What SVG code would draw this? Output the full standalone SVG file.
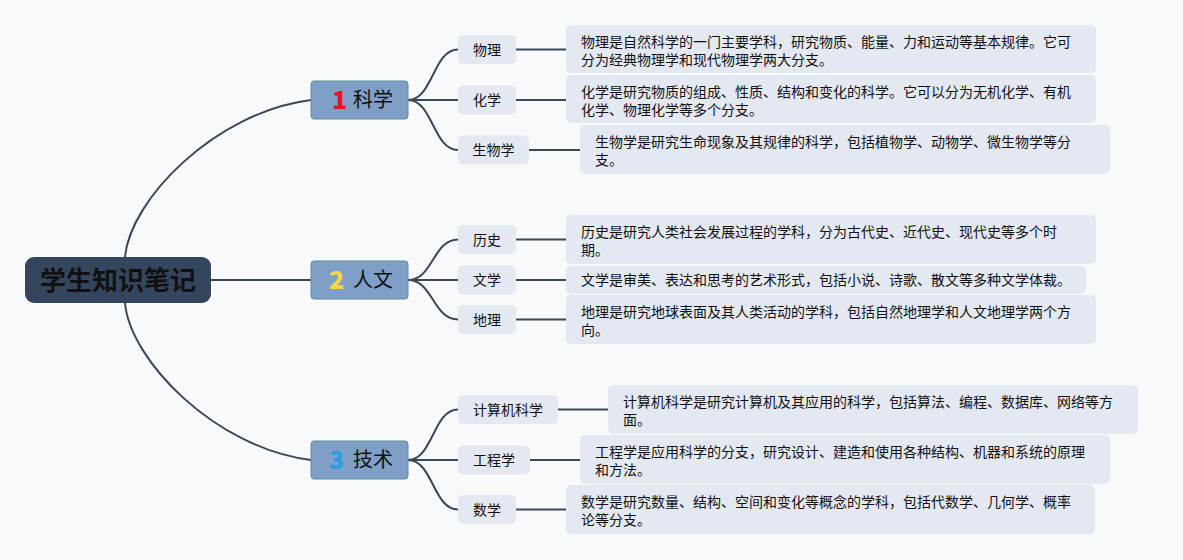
<svg xmlns="http://www.w3.org/2000/svg" width="1183" height="560" viewBox="0 0 1183 560">
<style>
.bg{fill:#f8f9fb}
.conn path{fill:none;stroke:#3c4858;stroke-width:2}
.root rect{fill:#34465e}
.root text{font-family:"Noto Sans CJK SC","Noto Sans",sans-serif;font-size:26px;font-weight:700;fill:#111;text-anchor:middle}
.br rect{fill:#809fc6;stroke:#5f8f98;stroke-width:1}
.br .num{font-family:"Noto Sans CJK SC","Noto Sans",sans-serif;font-size:25px;font-weight:900}
.br .lbl{font-family:"Noto Sans CJK SC","Noto Sans",sans-serif;font-size:20px;fill:#111}
.leaf rect{fill:#e4e8f0}
.leaf text{font-family:"Noto Sans CJK SC","Noto Sans",sans-serif;font-size:14px;fill:#111;text-anchor:middle}
.desc rect{fill:#e4e9f1}
.desc text{font-family:"Noto Sans CJK SC","Noto Sans",sans-serif;font-size:14px;fill:#111}
</style>
<rect class="bg" x="0" y="0" width="1183" height="560"/>
<g id="connectors" class="conn">
<path d="M125 257 C130 200 215 112 311 100"/>
<path d="M125 303 C130 360 215 448 311 460"/>
<path d="M211 280 L311 280"/>
<path d="M408 100 C433 100 433 49.5 458 49.5"/>
<path d="M408 100 L458 100"/>
<path d="M408 100 C433 100 433 150 458 150"/>
<path d="M408 280 C433 280 433 239.5 458 239.5"/>
<path d="M408 280 L458 280"/>
<path d="M408 280 C433 280 433 319.5 458 319.5"/>
<path d="M408 460 C433 460 433 409.5 458 409.5"/>
<path d="M408 460 L458 460"/>
<path d="M408 460 C433 460 433 509.5 458 509.5"/>
<path d="M516 49.5 L566 49.5"/>
<path d="M516 100 L566 100"/>
<path d="M529 150 L580 150"/>
<path d="M516 239.5 L566 239.5"/>
<path d="M516 280 L566 280"/>
<path d="M516 319.5 L566 319.5"/>
<path d="M558 409.5 L608 409.5"/>
<path d="M530 460 L580 460"/>
<path d="M516 509.5 L566 509.5"/>
</g>
<g id="root" class="root">
<rect x="25" y="257" width="186" height="46" rx="9"/>
<text x="118" y="290">学生知识笔记</text>
</g>
<g id="b1" class="br">
<rect x="311" y="81" width="97" height="38" rx="3"/>
<text class="num" x="332" y="109" fill="#e5112e">1</text>
<text class="lbl" x="353" y="107">科学</text>
</g>
<g id="b2" class="br">
<rect x="311" y="261" width="97" height="38" rx="3"/>
<text class="num" x="329" y="289" fill="#f3d744">2</text>
<text class="lbl" x="353" y="287">人文</text>
</g>
<g id="b3" class="br">
<rect x="311" y="441" width="97" height="38" rx="3"/>
<text class="num" x="329" y="469" fill="#2b9fe6">3</text>
<text class="lbl" x="353" y="467">技术</text>
</g>
<g id="l-wuli" class="leaf"><rect x="458" y="35" width="58" height="29" rx="5"/><text x="487" y="54.5">物理</text></g>
<g id="l-huaxue" class="leaf"><rect x="458" y="85.5" width="58" height="29" rx="5"/><text x="487" y="105">化学</text></g>
<g id="l-shengwu" class="leaf"><rect x="458" y="135.5" width="71" height="29" rx="5"/><text x="493.5" y="155">生物学</text></g>
<g id="l-lishi" class="leaf"><rect x="458" y="225" width="58" height="29" rx="5"/><text x="487" y="244.5">历史</text></g>
<g id="l-wenxue" class="leaf"><rect x="458" y="265.5" width="58" height="29" rx="5"/><text x="487" y="285">文学</text></g>
<g id="l-dili" class="leaf"><rect x="458" y="305" width="58" height="29" rx="5"/><text x="487" y="324.5">地理</text></g>
<g id="l-jisuanji" class="leaf"><rect x="458" y="395" width="100" height="29" rx="5"/><text x="508" y="414.5">计算机科学</text></g>
<g id="l-gongcheng" class="leaf"><rect x="458" y="445.5" width="72" height="29" rx="5"/><text x="494" y="465">工程学</text></g>
<g id="l-shuxue" class="leaf"><rect x="458" y="495" width="58" height="29" rx="5"/><text x="487" y="514.5">数学</text></g>
<g id="d-wuli" class="desc"><rect x="566" y="25" width="530" height="48" rx="5"/><text x="581" y="47">物理是自然科学的一门主要学科，研究物质、能量、力和运动等基本规律。它可</text><text x="581" y="65">分为经典物理学和现代物理学两大分支。</text></g>
<g id="d-huaxue" class="desc"><rect x="566" y="75" width="530" height="48" rx="5"/><text x="581" y="97">化学是研究物质的组成、性质、结构和变化的科学。它可以分为无机化学、有机</text><text x="581" y="115">化学、物理化学等多个分支。</text></g>
<g id="d-shengwu" class="desc"><rect x="580" y="125" width="530" height="49" rx="5"/><text x="595" y="147">生物学是研究生命现象及其规律的科学，包括植物学、动物学、微生物学等分</text><text x="595" y="165">支。</text></g>
<g id="d-lishi" class="desc"><rect x="566" y="215" width="530" height="49" rx="5"/><text x="581" y="237">历史是研究人类社会发展过程的学科，分为古代史、近代史、现代史等多个时</text><text x="581" y="255">期。</text></g>
<g id="d-wenxue" class="desc"><rect x="566" y="266" width="520" height="28" rx="5"/><text x="581" y="285">文学是审美、表达和思考的艺术形式，包括小说、诗歌、散文等多种文学体裁。</text></g>
<g id="d-dili" class="desc"><rect x="566" y="295" width="530" height="49" rx="5"/><text x="581" y="317">地理是研究地球表面及其人类活动的学科，包括自然地理学和人文地理学两个方</text><text x="581" y="335">向。</text></g>
<g id="d-jisuanji" class="desc"><rect x="608" y="385" width="530" height="49" rx="5"/><text x="623" y="407">计算机科学是研究计算机及其应用的科学，包括算法、编程、数据库、网络等方</text><text x="623" y="425">面。</text></g>
<g id="d-gongcheng" class="desc"><rect x="580" y="435" width="530" height="49" rx="5"/><text x="595" y="457">工程学是应用科学的分支，研究设计、建造和使用各种结构、机器和系统的原理</text><text x="595" y="475">和方法。</text></g>
<g id="d-shuxue" class="desc"><rect x="566" y="485" width="529" height="49" rx="5"/><text x="581" y="507">数学是研究数量、结构、空间和变化等概念的学科，包括代数学、几何学、概率</text><text x="581" y="525">论等分支。</text></g>
</svg>
